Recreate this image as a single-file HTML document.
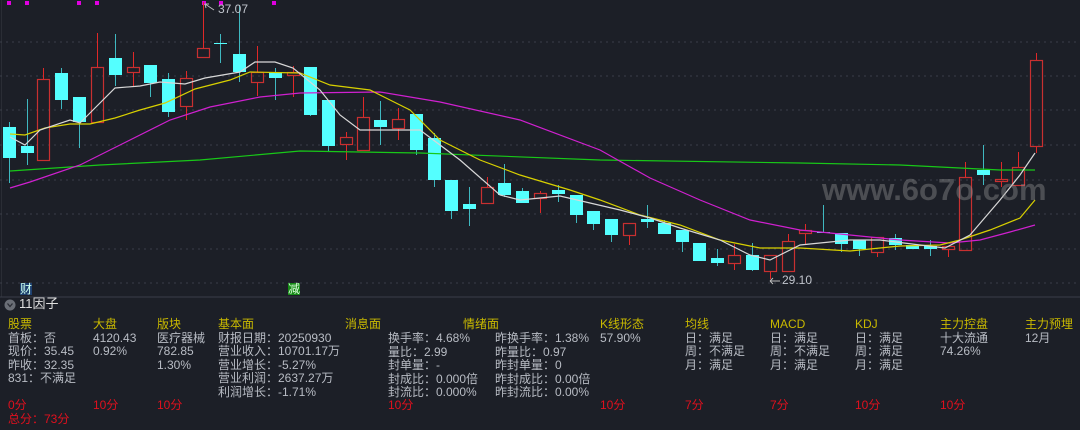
<!DOCTYPE html>
<html><head><meta charset="utf-8"><style>
html,body{margin:0;padding:0;background:#1c1f27;width:1080px;height:430px;overflow:hidden;font-family:"Liberation Sans","Noto Sans CJK SC",sans-serif;}
#wrap{position:relative;width:1080px;height:430px;}
svg{position:absolute;left:0;top:0;}
.t{position:absolute;font-size:12px;line-height:13.5px;color:#b8bcc4;white-space:pre;}
.h{color:#c9b900;}
.r{color:#e0101e;}
</style></head><body><div id="wrap">
<svg width="1080" height="430" id="s" xmlns="http://www.w3.org/2000/svg"></svg>
<div class="t" style="left:8px;top:318px"><span class="h">股票</span>
首板：否
现价：35.45
昨收：32.35
831：不满足</div>
<div class="t" style="left:93px;top:318px"><span class="h">大盘</span>
4120.43
0.92%</div>
<div class="t" style="left:157px;top:318px"><span class="h">版块</span>
医疗器械
782.85
1.30%</div>
<div class="t" style="left:218px;top:318px"><span class="h">基本面</span>
财报日期：20250930
营业收入：10701.17万
营业增长：-5.27%
营业利润：2637.27万
利润增长：-1.71%</div>
<div class="t" style="left:345px;top:318px"><span class="h">消息面</span></div>
<div class="t" style="left:463px;top:318px"><span class="h">情绪面</span></div>
<div class="t" style="left:388px;top:332px">换手率：4.68%
量比：2.99
封单量：-
封成比：0.000倍
封流比：0.000%</div>
<div class="t" style="left:495px;top:332px">昨换手率：1.38%
昨量比：0.97
昨封单量：0
昨封成比：0.00倍
昨封流比：0.00%</div>
<div class="t" style="left:600px;top:318px"><span class="h">K线形态</span>
57.90%</div>
<div class="t" style="left:685px;top:318px"><span class="h">均线</span>
日：满足
周：不满足
月：满足</div>
<div class="t" style="left:770px;top:318px"><span class="h">MACD</span>
日：满足
周：不满足
月：满足</div>
<div class="t" style="left:855px;top:318px"><span class="h">KDJ</span>
日：满足
周：满足
月：满足</div>
<div class="t" style="left:940px;top:318px"><span class="h">主力控盘</span>
十大流通
74.26%</div>
<div class="t" style="left:1025px;top:318px"><span class="h">主力预埋</span>
12月</div>
<div class="t r" style="left:8px;top:399px">0分
总分：73分</div>
<div class="t r" style="left:93px;top:399px">10分</div>
<div class="t r" style="left:157px;top:399px">10分</div>
<div class="t r" style="left:388px;top:399px">10分</div>
<div class="t r" style="left:600px;top:399px">10分</div>
<div class="t r" style="left:685px;top:399px">7分</div>
<div class="t r" style="left:770px;top:399px">7分</div>
<div class="t r" style="left:855px;top:399px">10分</div>
<div class="t r" style="left:940px;top:399px">10分</div>
<div class="t" style="left:19px;top:297px;font-size:13px;color:#e0e0e0">11因子</div>
<div class="t" style="left:20px;top:283px;color:#cfe;background:#1d3f6e;line-height:12px">财</div>
<div class="t" style="left:288px;top:283px;color:#dfd;background:#168a16;line-height:12px">减</div>
<div class="t" style="left:218px;top:3px;color:#c0c4cc;font-size:12px">37.07</div>
<div class="t" style="left:782px;top:274px;color:#c0c4cc;font-size:12px">29.10</div>
<div class="t" style="left:822px;top:172px;color:rgba(150,150,150,0.4);font-size:31px;line-height:36px;font-weight:bold;letter-spacing:0px">www.6o7o.com</div>
</div>
<script>
var s=document.getElementById('s'),h='';
h+='<line x1="1.5" y1="0" x2="1.5" y2="297" stroke="#2a2d35"/>';
[42,76,110,145,180,214,249,283].forEach(function(y){h+='<line x1="0" y1="'+y+'" x2="1080" y2="'+y+'" stroke="#3a3e48" stroke-dasharray="2,4"/>';});
h+='<line x1="0" y1="297" x2="1080" y2="297" stroke="#3a3e48"/>';
h+='<circle cx="10" cy="305" r="5.5" fill="#6a6e76"/><path d="M7.5 303.5 L10 306.5 L12.5 303.5" stroke="#2a2d35" fill="none" stroke-width="1.3"/>';
[9,27,79,97,204,221,274].forEach(function(x){h+='<rect x="'+(x-2)+'" y="1" width="4" height="4" fill="#e000e0"/>';});
var c=[[3,'c',127,158,122,183],[21,'c',146,153,99,165],[37,'r',79,161,68,161],[55,'c',73,100,68,109],[73,'c',97,122,97,148],[91,'r',67,123,33,123],[109,'c',58,75,34,86],[127,'r',67,73,52,87],[144,'c',65,83,65,97],[162,'c',79,112,73,117],[180,'r',78,107,71,120],[197,'r',48,58,2,58],[214,'c',43,44,34,63],[233,'c',54,72,5,82],[251,'r',72,83,46,96],[269,'c',72,78,68,100],[287,'r',72,76,66,97],[304,'c',67,115,67,116],[322,'c',100,146,100,151],[340,'r',137,145,132,160],[357,'r',117,151,97,151],[374,'c',120,127,101,145],[392,'r',119,129,108,140],[410,'c',114,150,114,155],[428,'c',138,180,133,187],[445,'c',180,211,180,219],[463,'c',204,209,187,226],[481,'r',187,204,177,204],[498,'c',183,195,164,197],[516,'c',191,203,188,203],[534,'r',193,199,191,213],[552,'c',190,194,185,202],[570,'c',195,215,195,223],[587,'c',211,224,211,230],[605,'c',219,235,219,242],[623,'r',223,236,223,245],[641,'c',219,222,205,228],[658,'c',223,234,220,234],[676,'c',230,242,230,252],[693,'c',243,261,243,261],[711,'c',258,263,249,266],[728,'r',255,264,244,270],[746,'c',255,270,243,271],[764,'r',255,272,255,279],[782,'r',241,272,234,272],[799,'r',230,234,224,244],[817,'c',232,233,205,233],[835,'c',233,244,233,252],[853,'c',240,249,240,256],[871,'r',237,253,237,257],[889,'c',238,245,234,250],[906,'c',245,249,245,249],[924,'c',246,249,240,256],[942,'r',246,250,246,257],[959,'r',177,251,162,251],[977,'c',170,175,145,185],[995,'r',179,182,162,187],[1012,'r',167,186,152,186],[1030,'r',60,147,53,153]];
c.forEach(function(d){var x=d[0],w=13,m=x+6.5;
if(d[1]=='c'){h+='<line x1="'+m+'" y1="'+d[4]+'" x2="'+m+'" y2="'+d[5]+'" stroke="#3fb8c0"/><rect x="'+x+'" y="'+d[2]+'" width="'+w+'" height="'+Math.max(1,d[3]-d[2])+'" fill="#54ffff"/>';}
else{h+='<line x1="'+m+'" y1="'+d[4]+'" x2="'+m+'" y2="'+d[2]+'" stroke="#e02828"/><line x1="'+m+'" y1="'+d[3]+'" x2="'+m+'" y2="'+d[5]+'" stroke="#e02828"/><rect x="'+(x+0.5)+'" y="'+(d[2]+0.5)+'" width="'+(w-1)+'" height="'+Math.max(1,d[3]-d[2]-1)+'" fill="none" stroke="#c83030" stroke-width="1.2"/>';}});
function pl(p,col){h+='<polyline fill="none" stroke="'+col+'" stroke-width="1.2" points="'+p+'"/>';}
pl('10,171 100,165 200,160 300,151 420,153 600,160 800,163 900,165 1000,170 1035,170','#18c818');
pl('10,188 30,182 80,165 130,140 170,120 210,107 260,97 300,93 380,92 440,102 520,120 600,150 650,178 700,200 750,220 800,230 850,235 900,240 950,243 980,240 1010,232 1035,225','#d020d0');
pl('10,134 25,135 45,128 70,124 90,124 115,118 140,110 165,103 195,89 230,80 250,72 300,73 330,85 370,90 410,110 440,140 480,160 520,175 570,190 600,200 640,215 680,225 720,240 760,248 800,248 850,251 900,246 940,245 960,240 990,230 1020,218 1035,200','#d8d000');
pl('10,137 25,145 40,130 70,120 80,123 115,88 140,86 160,82 185,84 205,78 240,72 255,62 275,62 293,68 320,90 340,115 360,130 420,130 460,160 500,195 520,200 560,196 590,203 620,210 650,218 680,228 720,240 750,255 770,260 800,245 850,240 880,240 920,245 945,248 970,235 1000,200 1020,175 1035,153','#d8d8d8');
h+='<path d="M214 10 L205 4 M205 4 L209 4 M205 4 L206 8" stroke="#bbb" fill="none"/>';
h+='<path d="M770 281 L780 281 M770 281 L773 278 M770 281 L773 284" stroke="#bbb" fill="none"/>';
s.innerHTML=h;
</script>
</body></html>
